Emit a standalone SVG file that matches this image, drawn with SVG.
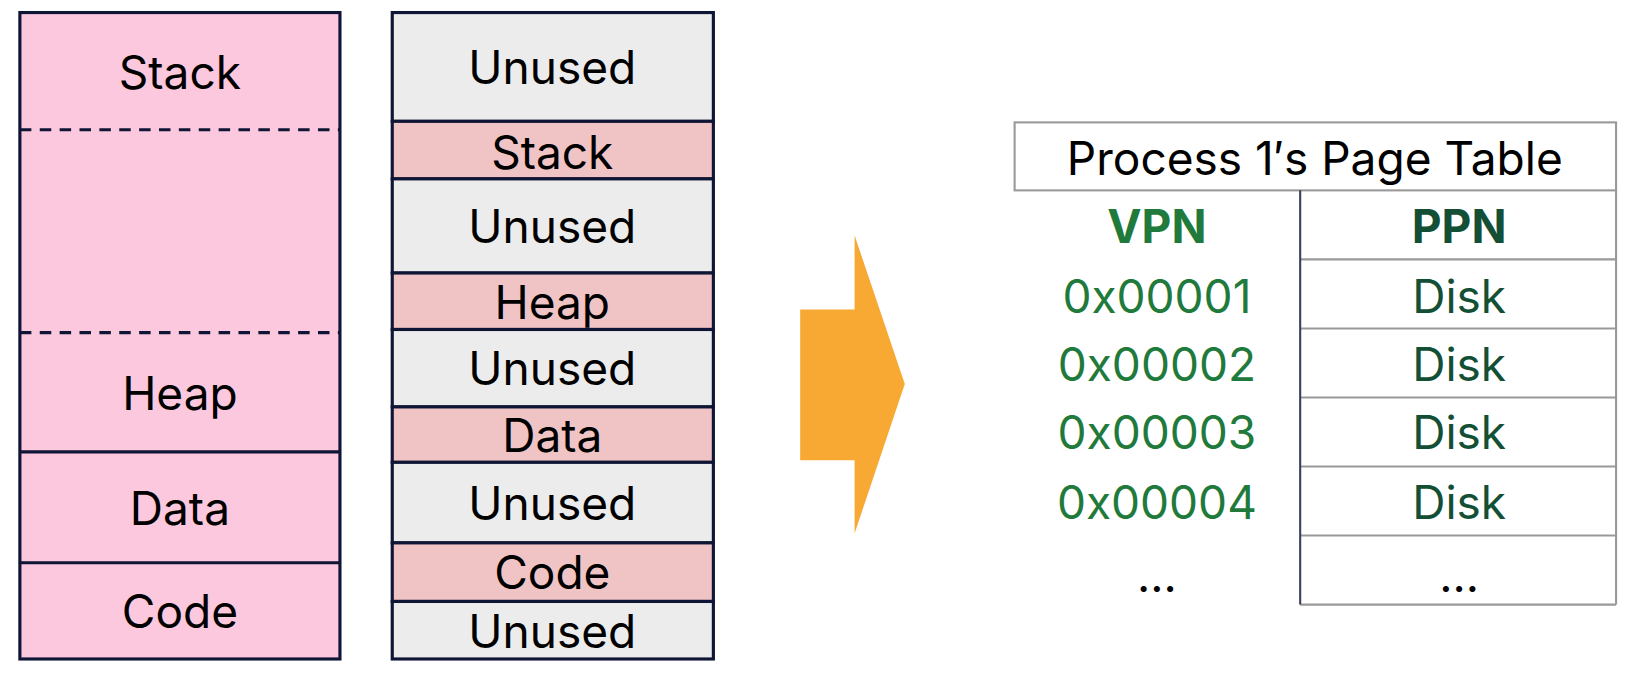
<svg xmlns="http://www.w3.org/2000/svg" width="1640" height="675" viewBox="0 0 1640 675">
<style>
text{font-family:Inter,"Noto Sans",sans-serif;text-anchor:middle;dominant-baseline:central}
.b{stroke:#0f1535;stroke-width:3}
.t{font-size:44px;fill:#000}
.g{fill:#1f7a3c;font-size:44px}
.d{fill:#134f35;font-size:44px}
.gl{stroke:#999;stroke-width:2}
</style>
<rect width="1640" height="675" fill="#fff"/>
<g transform="scale(1.046)">
<g id="virtual">
<rect x="19" y="12" width="306" height="618" fill="#fcc8de" class="b"/>
<line x1="19" y1="124" x2="325" y2="124" class="b" stroke-dasharray="11,8"/>
<line x1="19" y1="318" x2="325" y2="318" class="b" stroke-dasharray="11,8"/>
<line x1="19" y1="432" x2="325" y2="432" class="b"/>
<line x1="19" y1="538" x2="325" y2="538" class="b"/>
<text x="172" y="69" class="t">Stack</text>
<text x="172" y="376" class="t">Heap</text>
<text x="172" y="486" class="t">Data</text>
<text x="172" y="584" class="t">Code</text>
</g>
<g id="physical">
<rect x="375" y="12" width="307" height="104" fill="#ececec" class="b"/>
<rect x="375" y="116" width="307" height="55" fill="#f0c4c4" class="b"/>
<rect x="375" y="171" width="307" height="90" fill="#ececec" class="b"/>
<rect x="375" y="261" width="307" height="54" fill="#f0c4c4" class="b"/>
<rect x="375" y="315" width="307" height="74" fill="#ececec" class="b"/>
<rect x="375" y="389" width="307" height="53" fill="#f0c4c4" class="b"/>
<rect x="375" y="442" width="307" height="77" fill="#ececec" class="b"/>
<rect x="375" y="519" width="307" height="56" fill="#f0c4c4" class="b"/>
<rect x="375" y="575" width="307" height="55" fill="#ececec" class="b"/>
<text x="528" y="64" class="t">Unused</text>
<text x="528" y="145" class="t">Stack</text>
<text x="528" y="216" class="t">Unused</text>
<text x="528" y="289" class="t">Heap</text>
<text x="528" y="352" class="t">Unused</text>
<text x="528" y="416" class="t">Data</text>
<text x="528" y="481" class="t">Unused</text>
<text x="528" y="547" class="t">Code</text>
<text x="528" y="603" class="t">Unused</text>
</g>
<g id="arrow">
<polygon points="765,296 817,296 817,225 865,367 817,510 817,440 765,440" fill="#f8a933"/>
</g>
<g id="table">
<rect x="970" y="117" width="575" height="65" fill="#fff" class="gl"/>
<text x="1257" y="151" class="t">Process 1′s Page Table</text>
<line x1="1545" y1="182" x2="1545" y2="578" class="gl"/>
<line x1="1243" y1="248" x2="1545" y2="248" class="gl"/>
<line x1="1243" y1="314" x2="1545" y2="314" class="gl"/>
<line x1="1243" y1="380" x2="1545" y2="380" class="gl"/>
<line x1="1243" y1="446" x2="1545" y2="446" class="gl"/>
<line x1="1243" y1="512" x2="1545" y2="512" class="gl"/>
<line x1="1243" y1="578" x2="1545" y2="578" class="gl"/>
<line x1="1243" y1="182" x2="1243" y2="578" stroke="#3a3f5c" stroke-width="2"/>
<text x="1106" y="216" class="g" font-weight="bold">VPN</text>
<text x="1395" y="216" class="d" font-weight="bold">PPN</text>
<text x="1106" y="283" class="g">0x00001</text>
<text x="1106" y="348" class="g">0x00002</text>
<text x="1106" y="413" class="g">0x00003</text>
<text x="1106" y="480" class="g">0x00004</text>
<text x="1395" y="283" class="d">Disk</text>
<text x="1395" y="348" class="d">Disk</text>
<text x="1395" y="413" class="d">Disk</text>
<text x="1395" y="480" class="d">Disk</text>
<text x="1106" y="550" class="t">...</text>
<text x="1395" y="550" class="t">...</text>
</g>
</g>
</svg>
